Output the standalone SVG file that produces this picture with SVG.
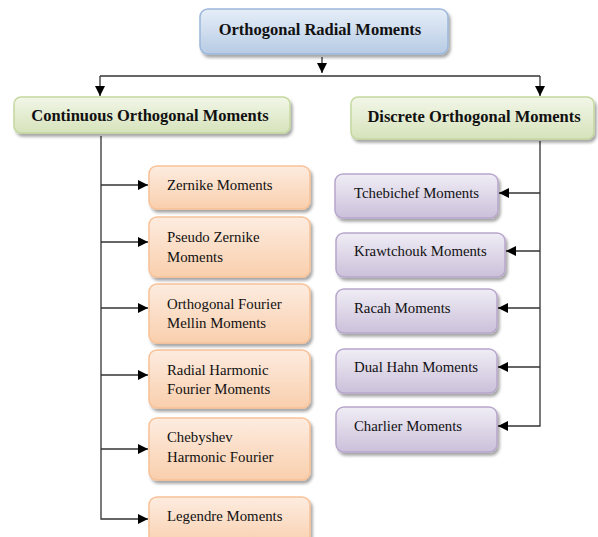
<svg xmlns="http://www.w3.org/2000/svg" width="598" height="537" viewBox="0 0 598 537">
<defs>
<linearGradient id="gBlue" x1="0" y1="0" x2="0" y2="1"><stop offset="0" stop-color="#e6eef8"/><stop offset="1" stop-color="#b7cbe4"/></linearGradient>
<linearGradient id="gGreen" x1="0" y1="0" x2="0" y2="1"><stop offset="0" stop-color="#f2f6e8"/><stop offset="1" stop-color="#d6e3bb"/></linearGradient>
<linearGradient id="gOrange" x1="0" y1="0" x2="0" y2="1"><stop offset="0" stop-color="#fdece0"/><stop offset="1" stop-color="#f9cfad"/></linearGradient>
<linearGradient id="gPurple" x1="0" y1="0" x2="0" y2="1"><stop offset="0" stop-color="#f0edf5"/><stop offset="1" stop-color="#cbc0da"/></linearGradient>
<filter id="sh" x="-10%" y="-10%" width="125%" height="140%"><feDropShadow dx="2" dy="3" stdDeviation="1.5" flood-color="#000" flood-opacity="0.35"/></filter>
<marker id="ah" viewBox="0 0 10 10" refX="10" refY="5" markerWidth="10" markerHeight="10" markerUnits="userSpaceOnUse" orient="auto"><path d="M0,0 L10,5 L0,10 z" fill="#000"/></marker>
</defs>
<style>
.box{stroke-width:1.5;filter:url(#sh)}
.blue{fill:url(#gBlue);stroke:#9bb7da}
.green{fill:url(#gGreen);stroke:#c5d89f}
.orange{fill:url(#gOrange);stroke:#f8c196}
.purple{fill:url(#gPurple);stroke:#b7a7cc}
.t{font-family:"Liberation Serif","Times New Roman",serif;font-size:14.8px;fill:#111}
.tb{font-family:"Liberation Serif","Times New Roman",serif;font-size:16.5px;font-weight:bold;fill:#111}
.c{fill:none;stroke:#333;stroke-width:1.3}
</style>
<g id="connectors">
<path class="c" d="M322,57 V73" marker-end="url(#ah)"/>
<path class="c" d="M100,76 H540"/>
<path class="c" d="M100,76 V96" marker-end="url(#ah)"/>
<path class="c" d="M540,76 V96" marker-end="url(#ah)"/>
<path class="c" d="M101,136 V519 H148" marker-end="url(#ah)"/>
<path class="c" d="M101,185 H148" marker-end="url(#ah)"/>
<path class="c" d="M101,242 H148" marker-end="url(#ah)"/>
<path class="c" d="M101,308 H148" marker-end="url(#ah)"/>
<path class="c" d="M101,375 H148" marker-end="url(#ah)"/>
<path class="c" d="M101,449 H148" marker-end="url(#ah)"/>
<path class="c" d="M540,141 V426 H498" marker-end="url(#ah)"/>
<path class="c" d="M540,193 H499" marker-end="url(#ah)"/>
<path class="c" d="M540,251 H506" marker-end="url(#ah)"/>
<path class="c" d="M540,308 H498" marker-end="url(#ah)"/>
<path class="c" d="M540,367 H498" marker-end="url(#ah)"/>
</g>
<g id="root"><rect class="box blue" x="200" y="9" width="248" height="45" rx="8"/><text class="tb" x="320" y="35" text-anchor="middle">Orthogonal Radial Moments</text></g>
<g id="continuous"><rect class="box green" x="14" y="97" width="276" height="36" rx="7"/><text class="tb" x="150" y="121" text-anchor="middle">Continuous  Orthogonal Moments</text></g>
<g id="discrete"><rect class="box green" x="351" y="97" width="243" height="42" rx="7"/><text class="tb" x="474" y="122" text-anchor="middle">Discrete Orthogonal Moments</text></g>
<g id="zernike"><rect class="box orange" x="149" y="166" width="161" height="43" rx="8"/><text class="t" x="167" y="190">Zernike Moments</text></g>
<g id="pseudo"><rect class="box orange" x="149" y="217" width="161" height="60" rx="8"/><text class="t" x="167" y="242">Pseudo Zernike</text><text class="t" x="167" y="262">Moments</text></g>
<g id="ofmm"><rect class="box orange" x="149" y="284" width="161" height="59" rx="8"/><text class="t" x="167" y="309">Orthogonal Fourier</text><text class="t" x="167" y="328">Mellin Moments</text></g>
<g id="rhfm"><rect class="box orange" x="149" y="350" width="161" height="58" rx="8"/><text class="t" x="167" y="375">Radial Harmonic</text><text class="t" x="167" y="394">Fourier Moments</text></g>
<g id="chebyshev"><rect class="box orange" x="149" y="418" width="161" height="62" rx="8"/><text class="t" x="167" y="442">Chebyshev</text><text class="t" x="167" y="462">Harmonic Fourier</text></g>
<g id="legendre"><rect class="box orange" x="149" y="497" width="161" height="50" rx="8"/><text class="t" x="167" y="521">Legendre Moments</text></g>
<g id="tchebichef"><rect class="box purple" x="335" y="174" width="163" height="44" rx="8"/><text class="t" x="354" y="198">Tchebichef Moments</text></g>
<g id="krawtchouk"><rect class="box purple" x="336" y="233" width="169" height="44" rx="8"/><text class="t" x="354" y="256">Krawtchouk Moments</text></g>
<g id="racah"><rect class="box purple" x="336" y="289" width="161" height="44" rx="8"/><text class="t" x="354" y="313">Racah Moments</text></g>
<g id="dualhahn"><rect class="box purple" x="336" y="349" width="161" height="44" rx="8"/><text class="t" x="354" y="372">Dual Hahn Moments</text></g>
<g id="charlier"><rect class="box purple" x="336" y="407" width="161" height="45" rx="8"/><text class="t" x="354" y="431">Charlier Moments</text></g>
</svg>
